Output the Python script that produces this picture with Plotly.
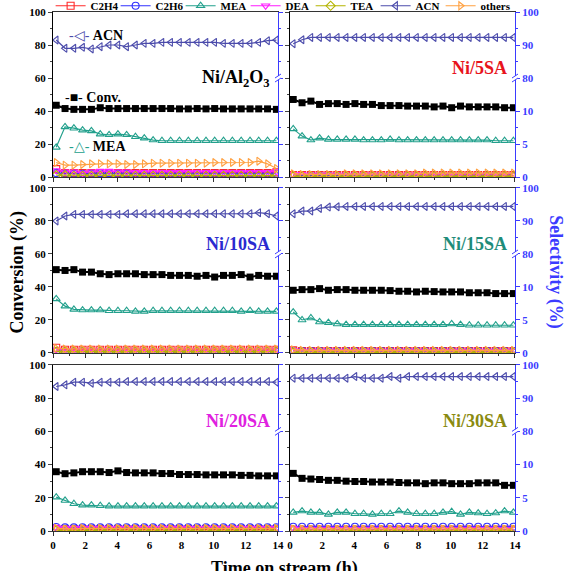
import plotly.graph_objects as go

# ---------------- data ----------------
t = [0.2, 0.75, 1.3, 1.84, 2.39, 2.94, 3.49, 4.04, 4.58, 5.13, 5.68, 6.23, 6.78,
     7.32, 7.87, 8.42, 8.97, 9.52, 10.06, 10.61, 11.16, 11.71, 12.26, 12.8, 13.35, 13.9]

x_ticks = [0, 2, 4, 6, 8, 10, 12, 14]
conv_ticks = [0, 20, 40, 60, 80, 100]
sel_tick_text = ['0', '5', '10', '80', '90', '100']

# Ni/Al2O3  (conversion in %, selectivities in %)
al_conv = [43.5, 41.5, 41, 41, 41, 42, 41.5, 41.5, 41.5, 41.5, 41.5, 41.5, 41.5, 41.5, 41.3, 41.3, 41.5, 41.3, 41.5, 41.3, 41.3, 41.3, 41.3, 41.3, 41.3, 41]
al_acn = [91.5, 89, 89, 89.3, 88.8, 89.5, 90, 90, 89.5, 90, 90.5, 90.5, 90.8, 90.8, 90.8, 90.8, 90.8, 90.8, 90.8, 90.5, 90.5, 90.5, 90.5, 90.8, 91.3, 91.5]
al_mea = [4.5, 7.6, 7.4, 7.1, 7.0, 6.5, 6.4, 6.5, 6.4, 6.1, 5.9, 5.6, 5.5, 5.5, 5.5, 5.5, 5.5, 5.5, 5.5, 5.5, 5.5, 5.5, 5.5, 5.5, 5.5, 5.5]
al_others = [2.2, 1.8, 1.8, 1.9, 2.0, 2.0, 2.0, 2.0, 1.9, 1.9, 2.0, 2.1, 2.1, 2.1, 2.1, 2.1, 2.1, 2.1, 2.2, 2.2, 2.2, 2.2, 2.2, 2.4, 2.0, 1.3]
al_dea = [1.0, 0.8, 0.8, 0.6, 0.8, 0.9, 0.9, 0.8, 0.8, 0.7, 0.7, 0.7, 0.7, 0.7, 0.7, 0.7, 0.7, 0.7, 0.7, 0.7, 0.7, 0.7, 0.7, 0.7, 0.7, 0.8]
al_c2h6 = [0.6, 0.5, 0.5, 0.5, 0.5, 0.6, 0.6, 0.5, 0.5, 0.5, 0.5, 0.5, 0.5, 0.5, 0.5, 0.5, 0.5, 0.5, 0.5, 0.5, 0.5, 0.5, 0.5, 0.5, 0.5, 0.5]
al_c2h4 = [1.2, 0.6, 0.6, 0.6, 0.6, 0.6, 0.6, 0.6, 0.6, 0.6, 0.6, 0.6, 0.6, 0.6, 0.6, 0.6, 0.6, 0.6, 0.6, 0.6, 0.6, 0.6, 0.6, 0.6, 0.6, 0.7]
al_tea = [0.3, 0.3, 0.2, 0.2, 0.2, 0.2, 0.2, 0.2, 0.2, 0.2, 0.2, 0.2, 0.2, 0.2, 0.2, 0.2, 0.2, 0.2, 0.2, 0.2, 0.2, 0.2, 0.2, 0.2, 0.2, 0.2]

# Ni/5SA
s5_conv = [47, 45, 46, 44, 44.5, 44.5, 44, 44.5, 44, 44, 43.3, 43.3, 43.3, 43, 43, 43, 42.5, 43, 42, 43, 42.5, 42.5, 42.5, 42.5, 42, 42]
s5_acn = [90.4, 91.6, 92.3, 92.3, 92.3, 92.3, 92.3, 92.3, 92.3, 92.3, 92.3, 92.3, 92.3, 92.3, 92.3, 92.3, 92.3, 92.3, 92.3, 92.3, 92.3, 92.3, 92.3, 92.3, 92.3, 92.3]
s5_mea = [7.3, 6.2, 5.6, 5.9, 5.7, 5.7, 5.7, 5.7, 5.6, 5.6, 5.6, 5.7, 5.6, 5.6, 5.6, 5.6, 5.6, 5.6, 5.6, 5.6, 5.6, 5.6, 5.6, 5.5, 5.5, 5.5]
s5_others = [0.5, 0.4, 0.4, 0.4, 0.4, 0.4, 0.5, 0.5, 0.5, 0.5, 0.5, 0.5, 0.5, 0.5, 0.5, 0.6, 0.6, 0.6, 0.6, 0.6, 0.6, 0.6, 0.6, 0.6, 0.6, 0.6]
s5_dea = [0.4, 0.4, 0.3, 0.3, 0.3, 0.3, 0.3, 0.3, 0.3, 0.3, 0.3, 0.3, 0.3, 0.3, 0.3, 0.3, 0.3, 0.3, 0.3, 0.3, 0.3, 0.3, 0.3, 0.3, 0.3, 0.3]
s5_c2h6 = [0.2, 0.2, 0.2, 0.2, 0.2, 0.2, 0.2, 0.2, 0.2, 0.2, 0.2, 0.2, 0.2, 0.2, 0.2, 0.2, 0.2, 0.2, 0.2, 0.2, 0.2, 0.2, 0.2, 0.2, 0.2, 0.2]
s5_c2h4 = [0.3, 0.3, 0.3, 0.3, 0.3, 0.3, 0.3, 0.3, 0.3, 0.3, 0.3, 0.3, 0.3, 0.3, 0.3, 0.3, 0.3, 0.3, 0.3, 0.3, 0.3, 0.3, 0.3, 0.3, 0.3, 0.3]
s5_tea = [0.1, 0.1, 0.1, 0.1, 0.1, 0.1, 0.1, 0.1, 0.1, 0.1, 0.1, 0.1, 0.1, 0.1, 0.1, 0.1, 0.1, 0.1, 0.1, 0.1, 0.1, 0.1, 0.1, 0.1, 0.1, 0.1]

# Ni/10SA
s10_conv = [50.5, 50, 50.5, 49, 49, 48, 47.5, 48, 48, 48, 47.5, 47.5, 47.5, 47, 47, 47, 46.5, 47, 46, 47, 47, 47.5, 46, 47, 46.5, 46.5]
s10_acn = [90, 91.5, 92, 92, 92, 92, 92, 92, 92.2, 92.2, 92.2, 92.2, 92.2, 92.2, 92.2, 92.2, 92.2, 92.2, 92.2, 92.2, 92.2, 92.2, 92.2, 92.5, 92.2, 91.5]
s10_mea = [8.2, 7.1, 6.6, 6.5, 6.5, 6.5, 6.4, 6.4, 6.4, 6.3, 6.3, 6.4, 6.4, 6.4, 6.4, 6.4, 6.4, 6.4, 6.4, 6.4, 6.4, 6.3, 6.4, 6.3, 6.3, 6.3]
s10_others = [0.7, 0.6, 0.6, 0.6, 0.6, 0.6, 0.6, 0.6, 0.6, 0.6, 0.6, 0.6, 0.6, 0.6, 0.6, 0.6, 0.6, 0.6, 0.6, 0.6, 0.6, 0.6, 0.6, 0.6, 0.6, 0.6]
s10_dea = [0.5, 0.4, 0.4, 0.4, 0.4, 0.4, 0.4, 0.4, 0.4, 0.4, 0.4, 0.4, 0.4, 0.4, 0.4, 0.4, 0.4, 0.4, 0.4, 0.4, 0.4, 0.4, 0.4, 0.4, 0.4, 0.4]
s10_c2h6 = [0.3, 0.3, 0.3, 0.3, 0.3, 0.3, 0.3, 0.3, 0.3, 0.3, 0.3, 0.3, 0.3, 0.3, 0.3, 0.3, 0.3, 0.3, 0.3, 0.3, 0.3, 0.3, 0.3, 0.3, 0.3, 0.3]
s10_c2h4 = [0.8, 0.5, 0.5, 0.5, 0.5, 0.5, 0.5, 0.5, 0.5, 0.5, 0.5, 0.5, 0.5, 0.5, 0.5, 0.5, 0.5, 0.5, 0.5, 0.5, 0.5, 0.5, 0.5, 0.5, 0.5, 0.5]
s10_tea = [0.2, 0.2, 0.2, 0.2, 0.2, 0.2, 0.2, 0.2, 0.2, 0.2, 0.2, 0.2, 0.2, 0.2, 0.2, 0.2, 0.2, 0.2, 0.2, 0.2, 0.2, 0.2, 0.2, 0.2, 0.2, 0.2]

# Ni/15SA
s15_conv = [38, 38.4, 38.4, 39, 38, 38.4, 38.4, 38, 38, 38, 38, 37.8, 37.4, 37.4, 37, 37.4, 37.2, 37, 37, 37, 36.5, 36.5, 36.5, 36, 36, 36]
s15_acn = [92.2, 93, 93, 93.8, 94.2, 94.3, 94.4, 94.4, 94.4, 94.4, 94.4, 94.4, 94.4, 94.4, 94.4, 94.4, 94.4, 94.4, 94.4, 94.4, 94.4, 94.4, 94.4, 94.4, 94.4, 94.4]
s15_mea = [6.2, 5.0, 5.3, 4.7, 4.6, 4.4, 4.3, 4.3, 4.3, 4.3, 4.3, 4.3, 4.3, 4.3, 4.3, 4.3, 4.3, 4.3, 4.4, 4.3, 4.2, 4.2, 4.2, 4.2, 4.2, 4.2]
s15_others = [0.5, 0.4, 0.4, 0.4, 0.4, 0.4, 0.4, 0.4, 0.4, 0.4, 0.4, 0.4, 0.4, 0.4, 0.4, 0.4, 0.4, 0.4, 0.4, 0.4, 0.4, 0.4, 0.4, 0.4, 0.4, 0.4]
s15_dea = [0.4, 0.3, 0.3, 0.3, 0.3, 0.3, 0.3, 0.3, 0.3, 0.3, 0.3, 0.3, 0.3, 0.3, 0.3, 0.3, 0.3, 0.3, 0.3, 0.3, 0.3, 0.3, 0.3, 0.3, 0.3, 0.3]
s15_c2h6 = [0.3, 0.3, 0.3, 0.3, 0.3, 0.3, 0.3, 0.3, 0.3, 0.3, 0.3, 0.3, 0.3, 0.3, 0.3, 0.3, 0.3, 0.3, 0.3, 0.3, 0.3, 0.3, 0.3, 0.3, 0.3, 0.3]
s15_c2h4 = [0.4, 0.3, 0.3, 0.3, 0.3, 0.3, 0.3, 0.3, 0.3, 0.3, 0.3, 0.3, 0.3, 0.3, 0.3, 0.3, 0.3, 0.3, 0.3, 0.3, 0.3, 0.3, 0.3, 0.3, 0.3, 0.3]
s15_tea = [0.1, 0.1, 0.1, 0.1, 0.1, 0.1, 0.1, 0.1, 0.1, 0.1, 0.1, 0.1, 0.1, 0.1, 0.1, 0.1, 0.1, 0.1, 0.1, 0.1, 0.1, 0.1, 0.1, 0.1, 0.1, 0.1]

# Ni/20SA
s20_conv = [35.7, 34.5, 35, 35.7, 35.7, 35.7, 35.2, 36.2, 35.2, 35, 35, 35, 34.6, 34.6, 34, 34, 34, 33.8, 33.8, 33.8, 33.8, 33.5, 33.5, 33.2, 33.2, 33.2]
s20_acn = [93.5, 94, 94.8, 94.8, 94.5, 94.8, 94.8, 94.8, 95, 95, 95, 95, 95, 95, 95, 95, 95, 95, 95, 95, 95, 95, 95, 95, 95, 94.8]
s20_mea = [5.1, 4.6, 4.1, 3.9, 3.9, 3.8, 3.75, 3.75, 3.75, 3.75, 3.75, 3.75, 3.75, 3.75, 3.75, 3.75, 3.75, 3.75, 3.75, 3.75, 3.75, 3.75, 3.75, 3.75, 3.75, 3.75]
s20_others = [0.4, 0.3, 0.3, 0.4, 0.4, 0.4, 0.4, 0.4, 0.4, 0.4, 0.4, 0.4, 0.4, 0.4, 0.4, 0.4, 0.4, 0.4, 0.4, 0.4, 0.4, 0.4, 0.4, 0.4, 0.4, 0.4]
s20_dea = [0.6, 0.4, 0.4, 0.4, 0.4, 0.4, 0.4, 0.4, 0.4, 0.4, 0.4, 0.4, 0.4, 0.4, 0.4, 0.4, 0.4, 0.4, 0.4, 0.4, 0.4, 0.4, 0.4, 0.4, 0.4, 0.4]
s20_c2h6 = [0.6, 0.55, 0.55, 0.55, 0.55, 0.55, 0.55, 0.55, 0.55, 0.55, 0.55, 0.55, 0.55, 0.55, 0.55, 0.55, 0.55, 0.55, 0.55, 0.55, 0.55, 0.55, 0.55, 0.55, 0.55, 0.55]
s20_c2h4 = [0.3, 0.25, 0.25, 0.25, 0.25, 0.25, 0.25, 0.25, 0.25, 0.25, 0.25, 0.25, 0.25, 0.25, 0.25, 0.25, 0.25, 0.25, 0.25, 0.25, 0.25, 0.25, 0.25, 0.25, 0.25, 0.25]
s20_tea = [0.1, 0.1, 0.1, 0.1, 0.1, 0.1, 0.1, 0.1, 0.1, 0.1, 0.1, 0.1, 0.1, 0.1, 0.1, 0.1, 0.1, 0.1, 0.1, 0.1, 0.1, 0.1, 0.1, 0.1, 0.1, 0.1]

# Ni/30SA
s30_conv = [34.7, 31.7, 31.3, 31, 30.5, 30.5, 30, 29.8, 29.8, 29.5, 29.5, 29.5, 29.2, 29, 29, 28.5, 29, 29, 28.5, 28.5, 28.5, 29, 29, 29, 27.5, 27.5]
s30_acn = [96, 96, 96, 96, 96, 96, 96, 96.5, 96, 96, 96, 96.5, 96, 96.5, 96.5, 96.5, 96.5, 96.5, 96.5, 96.5, 96.5, 96.5, 96.5, 96.5, 96.5, 96.5]
s30_mea = [2.8, 3.0, 2.8, 2.8, 2.5, 2.8, 2.8, 2.6, 2.6, 2.5, 2.6, 2.6, 3.0, 2.8, 2.6, 2.6, 2.6, 2.8, 2.9, 2.5, 2.8, 2.7, 2.6, 2.7, 3.0, 2.8]
s30_others = [0.3, 0.3, 0.3, 0.3, 0.3, 0.3, 0.3, 0.3, 0.3, 0.3, 0.3, 0.3, 0.3, 0.3, 0.3, 0.3, 0.3, 0.3, 0.3, 0.3, 0.3, 0.3, 0.3, 0.3, 0.3, 0.3]
s30_dea = [0.4, 0.3, 0.3, 0.3, 0.3, 0.3, 0.3, 0.3, 0.3, 0.3, 0.3, 0.3, 0.3, 0.3, 0.3, 0.3, 0.3, 0.3, 0.3, 0.3, 0.3, 0.3, 0.3, 0.3, 0.3, 0.3]
s30_c2h6 = [0.65, 0.65, 0.65, 0.65, 0.65, 0.65, 0.65, 0.65, 0.65, 0.65, 0.65, 0.65, 0.65, 0.65, 0.65, 0.65, 0.65, 0.65, 0.65, 0.65, 0.65, 0.65, 0.65, 0.65, 0.65, 0.65]
s30_c2h4 = [0.2, 0.2, 0.2, 0.2, 0.2, 0.2, 0.2, 0.2, 0.2, 0.2, 0.2, 0.2, 0.2, 0.2, 0.2, 0.2, 0.2, 0.2, 0.2, 0.2, 0.2, 0.2, 0.2, 0.2, 0.2, 0.2]
s30_tea = [0.1, 0.1, 0.1, 0.1, 0.1, 0.1, 0.1, 0.1, 0.1, 0.1, 0.1, 0.1, 0.1, 0.1, 0.1, 0.1, 0.1, 0.1, 0.1, 0.1, 0.1, 0.1, 0.1, 0.1, 0.1, 0.1]

# ---------------- styling ----------------
FONT = "Liberation Serif"
BLUE_AX = "#3b3bff"
series_style = {
    "C2H4":   dict(color="#ff2a2a", symbol="square-open"),
    "C2H6":   dict(color="#3030ff", symbol="circle-open"),
    "MEA":    dict(color="#22a08c", symbol="triangle-up-open"),
    "DEA":    dict(color="#ff1aff", symbol="triangle-down-open"),
    "TEA":    dict(color="#b4b400", symbol="diamond-open"),
    "ACN":    dict(color="#4b4bab", symbol="triangle-left-open"),
    "others": dict(color="#ffa040", symbol="triangle-right-open"),
}


def sel_to_axis(s):
    """Broken selectivity axis: 0-10 -> 0-40, 80-100 -> 60-100 (conversion scale)."""
    return s * 4 if s <= 10 else 60 + (s - 80) * 2


panels = [
    dict(label="Ni/Al<sub>2</sub>O<sub>3</sub>", lcolor="black", ly=60, conv=al_conv,
         sel=dict(C2H4=al_c2h4, C2H6=al_c2h6, MEA=al_mea, DEA=al_dea, TEA=al_tea, ACN=al_acn, others=al_others)),
    dict(label="Ni/5SA", lcolor="#e8141c", ly=66, conv=s5_conv,
         sel=dict(C2H4=s5_c2h4, C2H6=s5_c2h6, MEA=s5_mea, DEA=s5_dea, TEA=s5_tea, ACN=s5_acn, others=s5_others)),
    dict(label="Ni/10SA", lcolor="#2a2ad0", ly=66, conv=s10_conv,
         sel=dict(C2H4=s10_c2h4, C2H6=s10_c2h6, MEA=s10_mea, DEA=s10_dea, TEA=s10_tea, ACN=s10_acn, others=s10_others)),
    dict(label="Ni/15SA", lcolor="#1e8c7a", ly=66, conv=s15_conv,
         sel=dict(C2H4=s15_c2h4, C2H6=s15_c2h6, MEA=s15_mea, DEA=s15_dea, TEA=s15_tea, ACN=s15_acn, others=s15_others)),
    dict(label="Ni/20SA", lcolor="#e020e0", ly=66, conv=s20_conv,
         sel=dict(C2H4=s20_c2h4, C2H6=s20_c2h6, MEA=s20_mea, DEA=s20_dea, TEA=s20_tea, ACN=s20_acn, others=s20_others)),
    dict(label="Ni/30SA", lcolor="#8a8a10", ly=66, conv=s30_conv,
         sel=dict(C2H4=s30_c2h4, C2H6=s30_c2h6, MEA=s30_mea, DEA=s30_dea, TEA=s30_tea, ACN=s30_acn, others=s30_others)),
]

xdomains = [[0, 0.487], [0.513, 1]]
ydomains = [[0.682, 1], [0.343, 0.661], [0, 0.320]]

fig = go.Figure()
layout = {}
annotations = []
shapes = []

for i, p in enumerate(panels):
    k = i + 1
    row, col = i // 2, i % 2
    xs = "x" if k == 1 else f"x{k}"
    ys = "y" if k == 1 else f"y{k}"
    yr = f"y{6 + k}"

    for name in ["C2H4", "C2H6", "MEA", "DEA", "TEA", "ACN", "others"]:
        st = series_style[name]
        extra = dict(legendwidth=34) if name == "others" else {}
        fig.add_trace(go.Scatter(
            x=t, y=[sel_to_axis(v) for v in p["sel"][name]], name=name,
            mode="lines+markers", xaxis=xs, yaxis=ys,
            line=dict(color=st["color"], width=1.2),
            marker=dict(symbol=st["symbol"], size=7, color=st["color"], line=dict(width=1.1)),
            showlegend=(k == 1), legendgroup=name, **extra))
    fig.add_trace(go.Scatter(
        x=t, y=p["conv"], name="Conv.", mode="lines+markers", xaxis=xs, yaxis=ys,
        line=dict(color="black", width=2), marker=dict(symbol="square", size=7, color="black"),
        showlegend=False))
    # invisible trace on the right axis so it is always drawn
    fig.add_trace(go.Scatter(x=[None], y=[None], xaxis=xs, yaxis=yr, showlegend=False, hoverinfo="skip"))

    xkey = "xaxis" if k == 1 else f"xaxis{k}"
    ykey = "yaxis" if k == 1 else f"yaxis{k}"
    layout[xkey] = dict(domain=xdomains[col], range=[0, 14], anchor=ys, showline=True, linecolor="#333",
                        linewidth=1, mirror=True, ticks="outside", ticklen=4, tickcolor="#333",
                        tickmode="array", tickvals=x_ticks,
                        minor=dict(ticks="outside", ticklen=2, dtick=1, tick0=0, tickcolor="#333"),
                        showticklabels=(row == 2), showgrid=False, zeroline=False,
                        tickfont=dict(family=FONT, size=11, color="black", weight="bold"))
    layout[ykey] = dict(domain=ydomains[row], range=[0, 100], anchor=xs, showline=True, linecolor="black",
                        linewidth=1, ticks="outside", ticklen=4, tickmode="array", tickvals=conv_ticks,
                        minor=dict(ticks="outside", ticklen=2, dtick=10, tick0=0),
                        showticklabels=(col == 0), showgrid=False, zeroline=False,
                        tickfont=dict(family=FONT, size=11, color="black", weight="bold"))
    layout[f"yaxis{6 + k}"] = dict(overlaying=ys, side="right", anchor=xs, range=[0, 100],
                                   showline=True, linecolor=BLUE_AX, linewidth=1,
                                   ticks="outside", ticklen=4, tickcolor=BLUE_AX,
                                   tickmode="array", tickvals=conv_ticks, ticktext=sel_tick_text,
                                   minor=dict(ticks="outside", ticklen=2, tickcolor=BLUE_AX,
                                              tickmode="array", tickvals=[10, 30, 70, 90]),
                                   showticklabels=(col == 1), showgrid=False, zeroline=False,
                                   tickfont=dict(family=FONT, size=11, color=BLUE_AX, weight="bold"))

    # panel label
    annotations.append(dict(x=13.6, y=p["ly"], xref=xs, yref=ys, text=f"<b>{p['label']}</b>",
                            showarrow=False, xanchor="right", yanchor="middle",
                            font=dict(family=FONT, size=18, color=p["lcolor"])))
    # axis break marks on the right spine
    xd = f"{xs} domain"
    shapes.append(dict(type="rect", xref=xd, yref=ys, xsizemode="pixel", ysizemode="pixel",
                       xanchor=1, yanchor=60, x0=-3, x1=3, y0=-2, y1=2,
                       fillcolor="white", line=dict(width=0), layer="above"))
    for dy in (-2, 2):
        shapes.append(dict(type="line", xref=xd, yref=ys, xsizemode="pixel", ysizemode="pixel",
                           xanchor=1, yanchor=60, x0=-3, x1=3, y0=dy - 2, y1=dy + 2,
                           line=dict(color=BLUE_AX, width=1), layer="above"))

# inline labels in first panel
annotations += [
    dict(x=0.85, y=86, xref="x", yref="y", xanchor="left", showarrow=False,
         text="<span style='color:#4b4bab'>-◁-</span> <b>ACN</b>",
         font=dict(family=FONT, size=14, color="black")),
    dict(x=0.6, y=48, xref="x", yref="y", xanchor="left", showarrow=False,
         text="-■- <b>Conv.</b>", font=dict(family=FONT, size=14, color="black")),
    dict(x=0.85, y=18.5, xref="x", yref="y", xanchor="left", showarrow=False,
         text="<span style='color:#22a08c'>-△-</span> <b>MEA</b>",
         font=dict(family=FONT, size=14, color="black")),
]

# axis titles
annotations += [
    dict(x=-0.076, y=0.50, xref="paper", yref="paper", text="<b>Conversion (%)</b>", textangle=-90,
         xanchor="center", yanchor="middle",
         showarrow=False, font=dict(family=FONT, size=18, color="black")),
    dict(x=1.087, y=0.50, xref="paper", yref="paper", text="<b>Selectivity (%)</b>", textangle=90,
         xanchor="center", yanchor="middle",
         showarrow=False, font=dict(family=FONT, size=18, color=BLUE_AX)),
    dict(x=0.5, y=-0.048, xref="paper", yref="paper", text="<b>Time on stream (h)</b>",
         showarrow=False, yanchor="top", font=dict(family=FONT, size=18, color="black")),
]

fig.update_layout(
    width=573, height=571,
    margin=dict(l=53, r=58, t=12, b=40, autoexpand=False),
    paper_bgcolor="white", plot_bgcolor="white",
    annotations=annotations, shapes=shapes,
    legend=dict(orientation="h", x=1.01, xanchor="right", y=1.012, yanchor="middle",
                font=dict(family=FONT, size=11, color="black", weight="bold"),
                itemwidth=30, entrywidth=20, entrywidthmode="pixels",
                bgcolor="rgba(0,0,0,0)", tracegroupgap=0, borderwidth=0),
    **layout,
)

fig.write_html("out.html")
